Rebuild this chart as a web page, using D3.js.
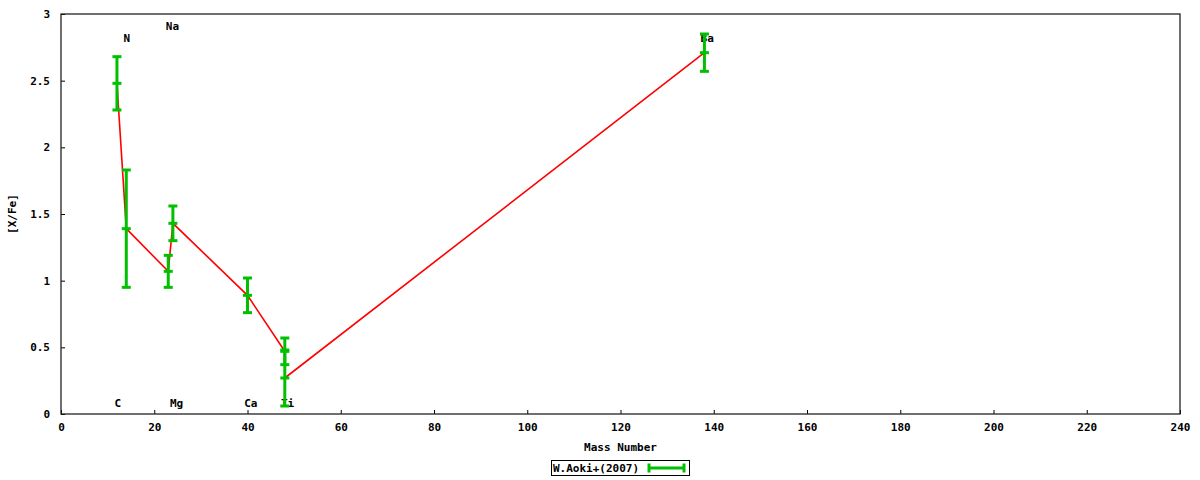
<!DOCTYPE html>
<html>
<head>
<meta charset="utf-8">
<script src="https://cdn.jsdelivr.net/npm/d3@7"></script>
<style>
  html, body { margin: 0; padding: 0; background: #fff; }
  svg { display: block; }
  text { font-family: "DejaVu Sans Mono", "Liberation Mono", monospace; font-size: 11px; font-weight: bold; fill: #000; }
</style>
</head>
<body>
<svg id="chart" width="1200" height="480"></svg>
<script>
// ---- data ----
const elements = ["C", "N", "Na", "Mg", "Ca", "Ti", "Ti", "Ba"];
const mass = [12, 14, 23, 24, 40, 48, 48, 138];
const xfe = [2.48, 1.39, 1.07, 1.43, 0.89, 0.47, 0.27, 2.71];
const xfeErr = [0.20, 0.44, 0.12, 0.13, 0.13, 0.10, 0.21, 0.14];

const labelNames = ["C", "N", "Na", "Mg", "Ca", "Ti", "Ba"];
const labelX = [12.2, 14.1, 23.9, 24.8, 40.7, 48.6, 138.6];
const labelY = [0.08, 2.82, 2.91, 0.08, 0.08, 0.08, 2.82];

const xTicks = [0, 20, 40, 60, 80, 100, 120, 140, 160, 180, 200, 220, 240];
const yTicks = [0, 0.5, 1, 1.5, 2, 2.5, 3];
const seriesName = "W.Aoki+(2007)";

// ---- layout ----
const svg = d3.select("#chart");
const pL = 61, pR = 1180, pT = 14, pB = 414;
const x = d3.scaleLinear().domain([0, 240]).range([pL, pR]);
const y = d3.scaleLinear().domain([0, 3]).range([pB, pT]);

const points = mass.map((m, i) => ({ m, v: xfe[i], e: xfeErr[i], el: elements[i] }));

// axes (gnuplot-like inward ticks)
const xAxis = d3.axisBottom(x).tickValues(xTicks).tickSizeInner(-4).tickSizeOuter(0).tickPadding(9).tickFormat(d3.format("d"));
const yAxis = d3.axisLeft(y).tickValues(yTicks).tickSizeInner(-4).tickSizeOuter(0).tickPadding(11).tickFormat(d => String(d));

const gx = svg.append("g").attr("transform", `translate(0,${pB})`).call(xAxis);
const gy = svg.append("g").attr("transform", `translate(${pL},0)`).call(yAxis);
[gx, gy].forEach(g => {
  g.select(".domain").remove();
  g.selectAll("line").attr("stroke", "#000").attr("stroke-width", 1);
  g.selectAll("text").attr("fill", "#000").style("font-family", "DejaVu Sans Mono, monospace").style("font-size", "11px").style("font-weight", "bold");
});
gx.selectAll("text").attr("dy", "0.71em");

// border
svg.append("rect")
  .attr("x", pL).attr("y", pT)
  .attr("width", pR - pL).attr("height", pB - pT)
  .attr("fill", "none").attr("stroke", "#222").attr("stroke-width", 1.3);

// axis titles
svg.append("text").attr("x", (pL + pR) / 2).attr("y", 451).attr("text-anchor", "middle").text("Mass Number");
svg.append("text").attr("transform", `translate(16,${(pT + pB) / 2}) rotate(-90)`).attr("text-anchor", "middle").text("[X/Fe]");

// element labels (drawn under the data)
labelNames.forEach((n, i) => {
  svg.append("text").attr("x", x(labelX[i])).attr("y", y(labelY[i]))
    .attr("text-anchor", "middle").attr("dominant-baseline", "central").text(n);
});

// red line connecting points
const line = d3.line().x(d => x(d.m)).y(d => y(d.v));
svg.append("path").datum(points).attr("d", line)
  .attr("fill", "none").attr("stroke", "#ff0000").attr("stroke-width", 1.6);

// error bars
const green = "#00c000";
const capW = 4.5;
const eb = svg.append("g");
points.forEach(p => {
  const cx = x(p.m);
  eb.append("line").attr("x1", cx).attr("x2", cx).attr("y1", y(p.v - p.e)).attr("y2", y(p.v + p.e))
    .attr("stroke", green).attr("stroke-width", 3);
  [p.v - p.e, p.v + p.e, p.v].forEach(v => {
    eb.append("line").attr("x1", cx - capW).attr("x2", cx + capW).attr("y1", y(v)).attr("y2", y(v))
      .attr("stroke", green).attr("stroke-width", 3);
  });
});

// legend
const lg = svg.append("g");
lg.append("rect").attr("x", 551.5).attr("y", 460.5).attr("width", 138).attr("height", 15)
  .attr("fill", "#fff").attr("stroke", "#000").attr("stroke-width", 1);
lg.append("text").attr("x", 553).attr("y", 468).attr("dominant-baseline", "central").text(seriesName);
const lx1 = 649, lx2 = 684, ly = 468;
lg.append("line").attr("x1", lx1).attr("x2", lx2).attr("y1", ly).attr("y2", ly).attr("stroke", green).attr("stroke-width", 3);
[lx1, lx2].forEach(xx => lg.append("line").attr("x1", xx).attr("x2", xx).attr("y1", ly - 4.5).attr("y2", ly + 4.5).attr("stroke", green).attr("stroke-width", 3));
</script>
</body>
</html>
